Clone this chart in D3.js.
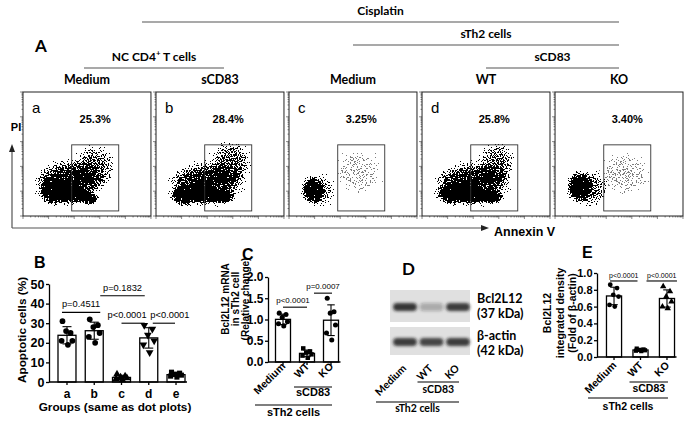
<!DOCTYPE html>
<html>
<head>
<meta charset="utf-8">
<script src="https://cdn.jsdelivr.net/npm/d3@7"></script>
<style>
  body { margin: 0; background: #fff; }
  svg { display: block; }
</style>
</head>
<body>
<div id="chart"></div>
<script>
// ---------- data ----------
// A: flow cytometry dot plots
const dotGroups = ['a', 'b', 'c', 'd', 'e'];
const dotLetters = ['a', 'b', 'c', 'd', ''];
const dotTop = ['Medium', 'sCD83', 'Medium', 'WT', 'KO'];
const dotPercent = ['25.3%', '28.4%', '3.25%', '25.8%', '3.40%'];
const gateX = [80, 5500];   // Annexin V gate
const gateY = [1.6, 740];   // PI gate
// cell clouds: [annexin, PI, spread x (decades), spread y (decades), density, shade]
const cloudsA = [[57, 22, 1.5, 1.05, 0.85, 'k'], [75, 8, 0.8, 0.45, 0.9, 'k'], [640, 90, 0.95, 1.05, 0.62, 'k'],
                 [15, 10, 0.62, 0.62, 1, 'k'], [380, 5, 0.45, 0.3, 1, 'k']];
const cloudsB = [[90, 20, 1.7, 1.0, 0.85, 'k'], [90, 7, 0.8, 0.42, 0.85, 'k'], [850, 140, 0.95, 1.05, 0.62, 'k'],
                 [12, 6.5, 0.6, 0.48, 1, 'k'], [420, 5.9, 0.5, 0.32, 1, 'k']];
const cloudsC = [[15, 11, 0.8, 0.8, 0.55, 'k'], [8.7, 11, 0.5, 0.6, 1, 'k'], [540, 60, 1.1, 1.1, 0.42, 'g']];
const cloudsD = [[90, 20, 1.7, 1.0, 0.85, 'k'], [90, 7, 0.8, 0.42, 0.9, 'k'], [850, 130, 0.85, 1.0, 0.6, 'k'],
                 [15, 8, 0.7, 0.52, 1, 'k'], [540, 5.9, 0.5, 0.32, 1, 'k']];
const cloudsE = [[21, 13, 0.9, 0.85, 0.6, 'k'], [8.7, 15, 0.55, 0.7, 1, 'k'], [540, 50, 1.2, 1.0, 0.45, 'g']];
const clouds = [cloudsA, cloudsB, cloudsC, cloudsD, cloudsE];

// B: apoptotic cells (%)
const bCats = ['a', 'b', 'c', 'd', 'e'];
const bVals = [[31, 25, 26, 21, 21, 19], [32, 29, 28, 25, 23, 20], [4, 3, 2.5, 2, 1.5, 1], [29, 27, 24, 21, 19, 15], [5, 4.5, 4, 3.5, 3, 2.5]];
const bTicks = [0, 10, 20, 30, 40, 50];
const bSig = [['a', 'b', 35.5, 'p=0.4511'], ['b', 'd', 44, 'p=0.1832'], ['c', 'd', 30, 'p<0.0001'], ['d', 'e', 30, 'p<0.0001']];

// C: Bcl2L12 mRNA
const cCats = ['Medium', 'WT', 'KO'];
const cVals = [[1.15, 1.12, 1.05, 0.95, 0.9, 0.85], [0.32, 0.25, 0.22, 0.18, 0.15, 0.1], [1.5, 1.18, 1.15, 0.87, 0.68, 0.52]];
const cTicks = [0, 0.5, 1, 1.5, 2];
const cSig = [['Medium', 'WT', 1.29, 'p<0.0001'], ['WT', 'KO', 1.62, 'p=0.0007']];

// D: western blot (band strength, relative)
const blotLanes = ['Medium', 'WT', 'KO'];
const actinLevel = [1, 0.95, 1];

// E: integrated density
const eCats = ['Medium', 'WT', 'KO'];
const eVals = [[0.86, 0.82, 0.74, 0.72, 0.62, 0.6], [0.1, 0.09, 0.085, 0.08, 0.075, 0.07], [0.84, 0.78, 0.72, 0.66, 0.6, 0.58]];
const eTicks = [0, 0.2, 0.4, 0.6, 0.8, 1];
const eSig = [['Medium', 'WT', 0.905, 'p<0.0001'], ['WT', 'KO', 0.905, 'p<0.0001']];

// ---------- setup ----------
const W = 692, H = 423;
const AR = "'Liberation Sans', Arial, sans-serif";
const CAL = "Lato, 'Open Sans', sans-serif";
const jitter = [-0.25, 0.2, -0.05, 0.3, -0.3, 0.05];

const svg = d3.select('#chart').append('svg')
  .attr('width', W).attr('height', H)
  .style('font-family', AR);
svg.append('rect').attr('width', W).attr('height', H).attr('fill', '#fff');
const defs = svg.append('defs');

// speckle filter: turns soft density shapes into scattered dots
const sp = defs.append('filter').attr('id', 'speckle')
  .attr('filterUnits', 'userSpaceOnUse')
  .attr('x', 0).attr('y', 0).attr('width', W).attr('height', H)
  .attr('color-interpolation-filters', 'sRGB');
sp.append('feTurbulence').attr('type', 'fractalNoise').attr('baseFrequency', 0.75)
  .attr('numOctaves', 1).attr('seed', 7).attr('result', 'n');
sp.append('feColorMatrix').attr('in', 'n').attr('type', 'matrix')
  .attr('values', '0 0 0 0 0  0 0 0 0 0  0 0 0 0 0  1.8 0 0 0 -0.4').attr('result', 'na');
sp.append('feComposite').attr('in', 'SourceAlpha').attr('in2', 'na').attr('operator', 'arithmetic')
  .attr('k1', 0).attr('k2', 1).attr('k3', -1).attr('k4', 0).attr('result', 'dd');
sp.append('feComponentTransfer').attr('in', 'dd')
  .append('feFuncA').attr('type', 'discrete')
  .attr('tableValues', '0 ' + d3.range(39).map(() => '1').join(' '));

defs.append('filter').attr('id', 'blur')
  .attr('x', '-20%').attr('y', '-80%').attr('width', '140%').attr('height', '260%')
  .append('feGaussianBlur').attr('stdDeviation', 1.5);

function txt(g, x, y, s, size, opts = {}) {
  return g.append('text').attr('x', x).attr('y', y).text(s)
    .attr('font-size', size)
    .attr('font-weight', opts.weight || 'bold')
    .attr('font-family', opts.font || AR)
    .attr('text-anchor', opts.anchor || 'middle')
    .attr('fill', opts.fill || '#000');
}

// ---------- A: header ----------
const xPanel = d3.scaleBand().domain(dotGroups).range([23, 683]).paddingInner(0.038);
const pc = k => xPanel(k) + xPanel.bandwidth() / 2;
const head = svg.append('g');
txt(head, 35, 52, 'A', 17, { anchor: 'start', font: CAL });

const brackets = [
  { label: 'Cisplatin', x0: xPanel('b') - 14, x1: pc('e'), ty: 15, ly: 22 },
  { label: 'sTh2 cells', x0: pc('c'), x1: pc('e'), ty: 38, ly: 45 },
  { label: 'NC CD4', x0: pc('a') - 3, x1: pc('b') + 4, ty: 61, ly: 68 },
  { label: 'sCD83', x0: pc('d'), x1: pc('e'), ty: 61, ly: 68 }
];
brackets.forEach(b => {
  head.append('line').attr('x1', b.x0).attr('x2', b.x1).attr('y1', b.ly).attr('y2', b.ly)
    .attr('stroke', '#555').attr('stroke-width', 1.2);
  const t = txt(head, (b.x0 + b.x1) / 2, b.ty, b.label, 12, { font: CAL });
  if (b.label === 'NC CD4') {
    t.append('tspan').attr('baseline-shift', 'super').attr('font-size', 8).text('+');
    t.append('tspan').text(' T cells');
  }
});
dotGroups.forEach((k, i) => txt(head, pc(k), 84, dotTop[i], 12.5, { font: CAL }));

// ---------- A: dot plots ----------
const pTop = 92, pH = 124, pW = xPanel.bandwidth();
const fx = d3.scaleLog().domain([1, 1e5]).range([0, pW]);
const fy = d3.scaleLog().domain([1, 1e5]).range([pH, 0]);
const decX = fx(10) - fx(1), decY = fy(1) - fy(10);

dotGroups.forEach((k, i) => {
  const g = svg.append('g').attr('transform', `translate(${xPanel(k)},${pTop})`);
  defs.append('clipPath').attr('id', 'clip' + k)
    .append('rect').attr('width', pW).attr('height', pH);

  ['k', 'g'].forEach(shade => {
    const cg = g.append('g').attr('clip-path', `url(#clip${k})`)
      .append('g').attr('filter', 'url(#speckle)')
      .attr('opacity', shade === 'g' ? 0.5 : 1);
    clouds[i].filter(c => c[5] === shade).forEach((c, j) => {
      const id = `cg${k}${shade}${j}`;
      const grad = defs.append('radialGradient').attr('id', id);
      grad.append('stop').attr('offset', 0).attr('stop-color', '#000').attr('stop-opacity', c[4]);
      grad.append('stop').attr('offset', 0.55).attr('stop-color', '#000').attr('stop-opacity', c[4] * 0.8);
      grad.append('stop').attr('offset', 1).attr('stop-color', '#000').attr('stop-opacity', 0);
      cg.append('ellipse')
        .attr('cx', fx(c[0])).attr('cy', fy(c[1]))
        .attr('rx', c[2] * decX).attr('ry', c[3] * decY)
        .attr('fill', `url(#${id})`);
    });
  });

  // log ticks on left and bottom
  const tk = g.append('g').attr('stroke', '#555').attr('stroke-width', 0.7);
  fy.ticks().forEach(v => {
    const major = Math.abs(Math.log10(v) % 1) < 1e-9;
    tk.append('line').attr('x1', 0).attr('x2', major ? -3 : -1.5).attr('y1', fy(v)).attr('y2', fy(v));
  });
  fx.ticks().forEach(v => {
    const major = Math.abs(Math.log10(v) % 1) < 1e-9;
    tk.append('line').attr('y1', pH).attr('y2', pH + (major ? 3 : 1.5)).attr('x1', fx(v)).attr('x2', fx(v));
  });

  g.append('rect').attr('width', pW).attr('height', pH)
    .attr('fill', 'none').attr('stroke', '#222').attr('stroke-width', 1);
  g.append('rect')
    .attr('x', fx(gateX[0])).attr('y', fy(gateY[1]))
    .attr('width', fx(gateX[1]) - fx(gateX[0])).attr('height', fy(gateY[0]) - fy(gateY[1]))
    .attr('fill', 'none').attr('stroke', '#333').attr('stroke-width', 0.9);
  txt(g, 9, 21, dotLetters[i], 15, { anchor: 'start', weight: 'normal' });
  txt(g, (fx(gateX[0]) + fx(gateX[1])) / 2, 31, dotPercent[i], 11);
});

// axis arrows
const arr = svg.append('g').attr('stroke', '#555').attr('stroke-width', 1.2).attr('fill', 'none');
arr.append('path').attr('d', 'M12,228V150 M483,228H12');
svg.append('path').attr('d', 'M12,144 L9,152 L15,152 Z').attr('fill', '#222');
svg.append('path').attr('d', 'M489,228 L481,225 L481,231 Z').attr('fill', '#222');
txt(svg, 16, 131, 'PI', 11);
txt(svg, 494, 236, 'Annexin V', 12.5, { anchor: 'start' });

// ---------- bar chart helper ----------
function barChart(cfg) {
  const g = svg.append('g');
  const x = d3.scaleBand().domain(cfg.cats).range(cfg.xr).paddingInner(cfg.pi).paddingOuter(cfg.po);
  const y = d3.scaleLinear().domain(cfg.yd).range(cfg.yr);
  const cx = k => x(k) + x.bandwidth() / 2;
  const stats = cfg.vals.map(v => ({ m: d3.mean(v), s: d3.deviation(v) }));

  g.selectAll('rect.bar').data(cfg.cats).join('rect').attr('class', 'bar')
    .attr('x', k => x(k)).attr('width', x.bandwidth())
    .attr('y', (k, i) => y(stats[i].m)).attr('height', (k, i) => y(0) - y(stats[i].m))
    .attr('fill', '#fff').attr('stroke', '#000').attr('stroke-width', 1.3);

  const cap = x.bandwidth() * 0.25;
  cfg.cats.forEach((k, i) => {
    const { m, s } = stats[i];
    const eb = g.append('g').attr('stroke', '#000').attr('stroke-width', 1.1);
    eb.append('line').attr('x1', cx(k)).attr('x2', cx(k)).attr('y1', y(m - s)).attr('y2', y(m + s));
    [m - s, m + s].forEach(v => eb.append('line')
      .attr('x1', cx(k) - cap).attr('x2', cx(k) + cap).attr('y1', y(v)).attr('y2', y(v)));
    const sym = d3.symbol().type(cfg.symbols[i] === 'square' ? d3.symbolSquare
      : cfg.symbols[i].startsWith('triangle') ? d3.symbolTriangle : d3.symbolCircle).size(cfg.symSize);
    cfg.vals[i].forEach((v, j) => {
      g.append('path').attr('d', sym)
        .attr('transform', `translate(${cx(k) + jitter[j] * x.bandwidth()},${y(v)})` +
          (cfg.symbols[i] === 'triangleDown' ? ' rotate(180)' : ''))
        .attr('fill', '#000');
    });
  });

  const ax = g.append('g').attr('transform', `translate(${cfg.xr[0]},0)`)
    .call(d3.axisLeft(y).tickValues(cfg.ticks).tickFormat(cfg.fmt).tickSize(3).tickPadding(1.5).tickSizeOuter(0));
  ax.selectAll('path, line').attr('stroke', '#000').attr('stroke-width', 1.3);
  ax.selectAll('text').attr('font-family', AR).attr('font-weight', 'bold').attr('font-size', cfg.tickSize);
  ax.attr('font-family', null);

  const xEnd = x(cfg.cats[cfg.cats.length - 1]) + x.bandwidth() + 2;
  g.append('line').attr('x1', cfg.xr[0]).attr('x2', xEnd).attr('y1', y(0)).attr('y2', y(0))
    .attr('stroke', '#000').attr('stroke-width', 1.3);
  cfg.cats.forEach(k => g.append('line').attr('x1', cx(k)).attr('x2', cx(k))
    .attr('y1', y(0)).attr('y2', y(0) + 3).attr('stroke', '#000').attr('stroke-width', 1.3));

  // significance bars: inset = [left, right, text dx] in px
  cfg.sig.forEach((s, i) => {
    const ins = cfg.sigInset[i];
    const x0 = cx(s[0]) + ins[0], x1 = cx(s[1]) + ins[1];
    g.append('line').attr('x1', x0).attr('x2', x1).attr('y1', y(s[2])).attr('y2', y(s[2]))
      .attr('stroke', '#000').attr('stroke-width', 1.1);
    txt(g, (x0 + x1) / 2 + ins[2], y(s[2]) - cfg.sigGap, s[3], cfg.sigSize, { weight: 'normal' });
  });
  return { g, x, y, cx };
}

function rotLabels(g, cats, cx, dx, y0, size, font) {
  cats.forEach(k => txt(g, 0, 0, k, size, { anchor: 'end', font: font })
    .attr('x', null).attr('y', null)
    .attr('transform', `translate(${cx(k) + dx},${y0}) rotate(-45)`));
}

function groupLines(g, cx, rows, size, font) {
  // rows: [label, fromKey, toKey, lineY, textY, leftPad]
  rows.forEach(r => {
    const x0 = cx(r[1]) - r[5], x1 = cx(r[2]) + 1;
    g.append('line').attr('x1', x0).attr('x2', x1).attr('y1', r[3]).attr('y2', r[3])
      .attr('stroke', '#000').attr('stroke-width', 1.2);
    txt(g, (x0 + x1) / 2, r[4], r[0], size, { font: font });
  });
}

// ---------- B ----------
const B = barChart({
  cats: bCats, vals: bVals, symbols: ['circle', 'circle', 'triangle', 'triangleDown', 'square'],
  xr: [49, 194], pi: 0.34, po: 0.33, yd: [0, 50], yr: [382, 284], ticks: bTicks,
  fmt: d3.format('d'), tickSize: 12.5, sig: bSig, sigGap: 5, sigSize: 9.3, symSize: 26,
  sigInset: [[-5, 6, 0], [6, -4, 0], [0, -4, -6], [4, -1, 6]]
});
txt(svg, 34, 268, 'B', 16, { anchor: 'start' });
bCats.forEach(k => txt(B.g, B.cx(k), 398, k, 12));
txt(svg, 115, 411, 'Groups (same as dot plots)', 11.8);
txt(svg, 0, 0, 'Apoptotic cells (%)', 11.8).attr('transform', 'translate(26,330) rotate(-90)');

// ---------- C ----------
const C = barChart({
  cats: cCats, vals: cVals, symbols: ['circle', 'square', 'circle'],
  xr: [268, 346], pi: 0.375, po: 0.3125, yd: [0, 2], yr: [362, 277], ticks: cTicks,
  fmt: d3.format('.1f'), tickSize: 12, sig: cSig, sigGap: 4, sigSize: 8, symSize: 20,
  sigInset: [[0, 0, -2], [7, 1, 0]]
});
txt(svg, 242, 260, 'C', 16, { anchor: 'start' });
['Bcl2L12 mRNA', 'in sTh2 cell', '(Relative change)'].forEach((s, i) =>
  txt(svg, 0, 0, s, 10).attr('transform', `translate(${229 + i * 10},299) rotate(-90)`));
rotLabels(C.g, cCats, C.cx, 3, 367, 10.5);
groupLines(C.g, C.cx, [['sCD83', 'WT', 'KO', 387, 396, 13], ['sTh2 cells', 'Medium', 'KO', 405, 416, 28]], 11);

// ---------- D ----------
const lane = d3.scaleBand().domain(blotLanes).range([392, 471]).paddingInner(0.1).paddingOuter(0.04);
const laneC = k => lane(k) + lane.bandwidth() / 2;
const eMeans = eVals.map(v => d3.mean(v));
const bandAlpha = d3.scaleLinear().domain([0, d3.max(eMeans)]).range([0.2, 0.85]);
const D = svg.append('g');
txt(D, 402, 275, 'D', 17, { anchor: 'start', font: CAL });
const blots = [
  { y0: 290, y1: 322, bandY: 307, levels: eMeans.map(bandAlpha) },
  { y0: 327, y1: 355, bandY: 342, levels: actinLevel.map(v => 0.82 * v) }
];
blots.forEach(b => {
  D.append('rect').attr('x', 390).attr('y', b.y0).attr('width', 80).attr('height', b.y1 - b.y0)
    .attr('fill', '#e0e0e0');
  blotLanes.forEach((k, i) => D.append('rect')
    .attr('x', lane(k)).attr('width', lane.bandwidth())
    .attr('y', b.bandY - 4).attr('height', 8).attr('rx', 4)
    .attr('fill', '#1a1a1a').attr('fill-opacity', b.levels[i]).attr('filter', 'url(#blur)'));
});
[['Bcl2L12', 303], ['(37 kDa)', 318], ['β-actin', 340], ['(42 kDa)', 355]].forEach(t =>
  txt(D, 477, t[1], t[0], 12.5, { anchor: 'start', font: CAL }));
rotLabels(D, blotLanes, laneC, 2, 369, 10.5, CAL);
groupLines(D, laneC, [['sCD83', 'WT', 'KO', 382, 393, 14], ['sTh2 cells', 'Medium', 'KO', 402, 412, 29]], 10.5, CAL);

// ---------- E ----------
const E = barChart({
  cats: eCats, vals: eVals, symbols: ['circle', 'square', 'triangle'],
  xr: [597, 684], pi: 0.43, po: 0.358, yd: [0, 1], yr: [357, 273], ticks: eTicks,
  fmt: d3.format('.1f'), tickSize: 11, sig: eSig, sigGap: 3, sigSize: 7, symSize: 18,
  sigInset: [[-4, -3, 0], [6, 10, 0]]
});
txt(svg, 582, 258, 'E', 16, { anchor: 'start' });
['Bcl2L12', 'integrated density', '(Fold of β-actin)'].forEach((s, i) =>
  txt(svg, 0, 0, s, 10.5).attr('transform', `translate(${551 + i * 12.5},313) rotate(-90)`));
rotLabels(E.g, eCats, E.cx, 3, 366, 10.5);
groupLines(E.g, E.cx, [['sCD83', 'WT', 'KO', 382, 392, 11], ['sTh2 cells', 'Medium', 'KO', 398, 410, 26]], 10.5);
</script>
</body>
</html>
